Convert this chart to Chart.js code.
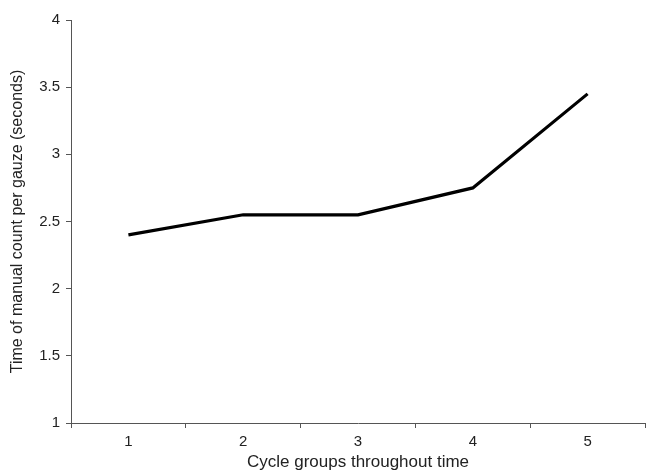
<!DOCTYPE html>
<html>
<head>
<meta charset="utf-8">
<script src="https://cdn.jsdelivr.net/npm/chart.js@4"></script>
<style>
  html, body { margin: 0; padding: 0; background: #fff; }
  #wrap { width: 646px; height: 473px; }
</style>
</head>
<body>
<div id="wrap"><canvas id="cycleChart"></canvas></div>
<script>
const cycleGroups = ['1', '2', '3', '4', '5'];
const countTimes = [2.40, 2.55, 2.55, 2.75, 3.45];
const yMin = 1, yMax = 4, yStep = 0.5;

const axisColor = '#555';
const textColor = '#222';
const fontFamily = 'Liberation Sans, Arial';

const ctx = document.getElementById('cycleChart').getContext('2d');
new Chart(ctx, {
  type: 'line',
  data: {
    labels: cycleGroups,
    datasets: [{
      data: countTimes,
      borderColor: '#000',
      borderWidth: 3.2,
      pointRadius: 0,
      tension: 0,
      fill: false
    }]
  },
  options: {
    responsive: true,
    maintainAspectRatio: false,
    animation: false,
    layout: { padding: { top: 20, right: 1, left: 0, bottom: 0 } },
    plugins: {
      legend: { display: false },
      tooltip: { enabled: false }
    },
    scales: {
      x: {
        offset: true,
        grid: {
          offset: true,
          drawOnChartArea: false,
          drawTicks: true,
          tickLength: 5,
          color: axisColor
        },
        border: { color: axisColor, width: 1, dash: [4, 1] },
        ticks: {
          color: textColor,
          font: { family: fontFamily, size: 15 },
          padding: 5
        },
        title: {
          display: true,
          text: 'Cycle groups throughout time',
          color: textColor,
          font: { family: fontFamily, size: 17 },
          padding: { top: 3, bottom: 0 }
        },
        afterFit: scale => { scale.height = 50; }
      },
      y: {
        min: yMin,
        max: yMax,
        grid: {
          drawOnChartArea: false,
          drawTicks: true,
          tickLength: 5,
          color: axisColor
        },
        border: { color: axisColor, width: 1, dash: [4, 1] },
        ticks: {
          stepSize: yStep,
          color: textColor,
          font: { family: fontFamily, size: 15 },
          padding: 6,
          callback: v => String(v)
        },
        title: {
          display: true,
          text: 'Time of manual count per gauze (seconds)',
          color: textColor,
          font: { family: fontFamily, size: 16 },
          padding: { top: 8, bottom: 6 }
        },
        afterFit: scale => { scale.width = 71; }
      }
    }
  }
});
</script>
</body>
</html>
